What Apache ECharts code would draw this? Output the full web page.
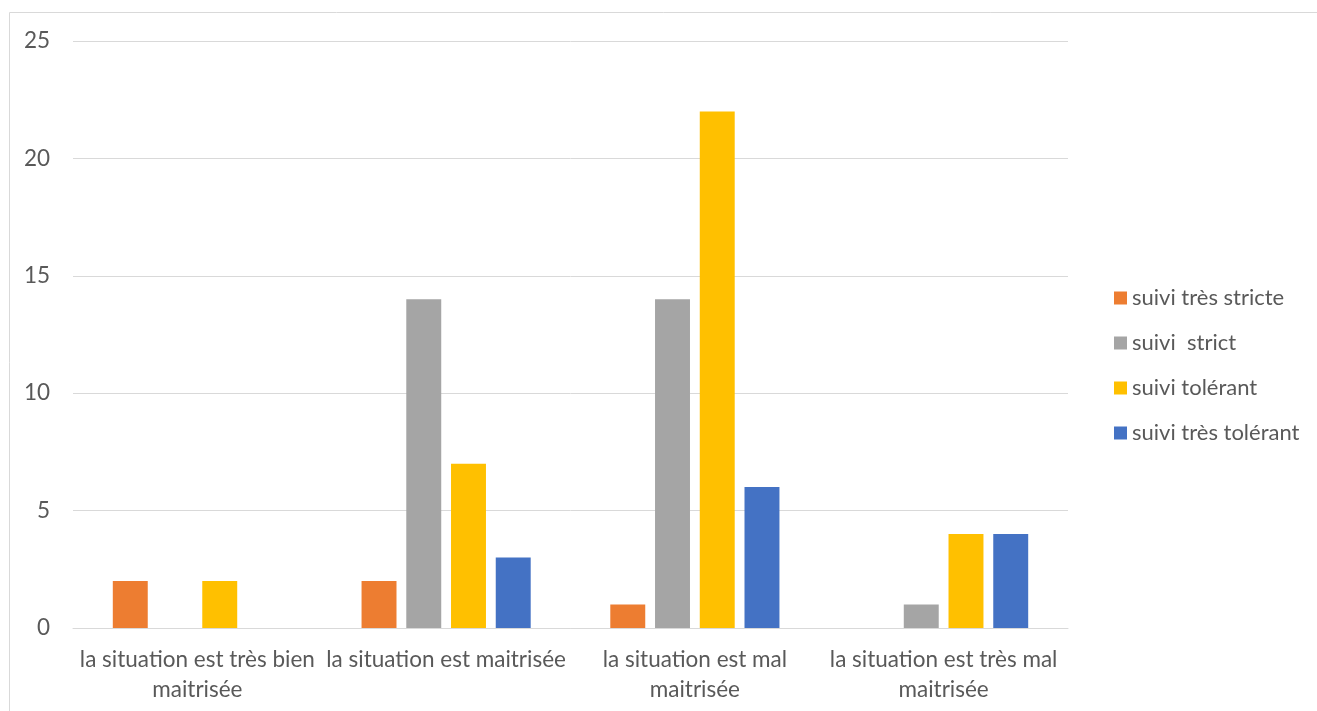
<!DOCTYPE html>
<html>
<head>
<meta charset="utf-8">
<script src="https://cdn.jsdelivr.net/npm/echarts@6/dist/echarts.min.js"></script>
<style>
html,body{margin:0;padding:0;background:#fff;}
#chart{width:1317px;height:711px;}
</style>
</head>
<body>
<div id="chart"></div>
<script>
const categories = [
  "la situation est très bien\nmaitrisée",
  "la situation est maitrisée",
  "la situation est mal\nmaitrisée",
  "la situation est très mal\nmaitrisée"
];
const seriesNames = ["suivi très stricte", "suivi  strict", "suivi tolérant", "suivi très tolérant"];
const tresStricte = [2, 2, 1, 0];
const strict = [0, 14, 14, 1];
const tolerant = [2, 7, 22, 4];
const tresTolerant = [0, 3, 6, 4];
const yTicks = [0, 5, 10, 15, 20, 25];

const colors = ["#ED7D31", "#A5A5A5", "#FFC000", "#4472C4"];
const values = [tresStricte, strict, tolerant, tresTolerant];
const font = "Lato";

const chart = echarts.init(document.getElementById('chart'));
chart.setOption({
  animation: false,
  color: colors,
  graphic: [{
    type: 'rect',
    shape: { x: 9.5, y: 12.5, width: 1400, height: 800 },
    style: { fill: 'none', stroke: '#D9D9D9', lineWidth: 1 },
    silent: true
  }],
  grid: { left: 73, right: 249, top: 41, bottom: 83, containLabel: false },
  legend: {
    orient: 'vertical',
    left: 1109,
    top: 282,
    itemWidth: 13,
    itemHeight: 13,
    itemGap: 23,
    icon: 'rect',
    textStyle: { fontFamily: font, fontSize: 22, color: '#595959', lineHeight: 22 },
    data: seriesNames
  },
  xAxis: {
    type: 'category',
    data: categories,
    axisLine: { show: true, lineStyle: { color: '#D9D9D9', width: 1 } },
    axisTick: { show: false },
    axisLabel: {
      interval: 0,
      margin: 17,
      fontFamily: font,
      fontSize: 22.5,
      lineHeight: 30,
      color: '#595959',
      align: 'center'
    }
  },
  yAxis: {
    type: 'value',
    min: yTicks[0],
    max: yTicks[yTicks.length - 1],
    interval: 5,
    axisLine: { show: false },
    axisTick: { show: false },
    splitLine: { lineStyle: { color: '#D9D9D9', width: 1 } },
    axisLabel: { margin: 23, fontFamily: font, fontSize: 22.5, color: '#595959' }
  },
  series: seriesNames.map((name, i) => ({
    name: name,
    type: 'bar',
    data: values[i],
    barGap: '28%',
    barCategoryGap: '32%',
    itemStyle: { color: colors[i] }
  }))
});
</script>
</body>
</html>
